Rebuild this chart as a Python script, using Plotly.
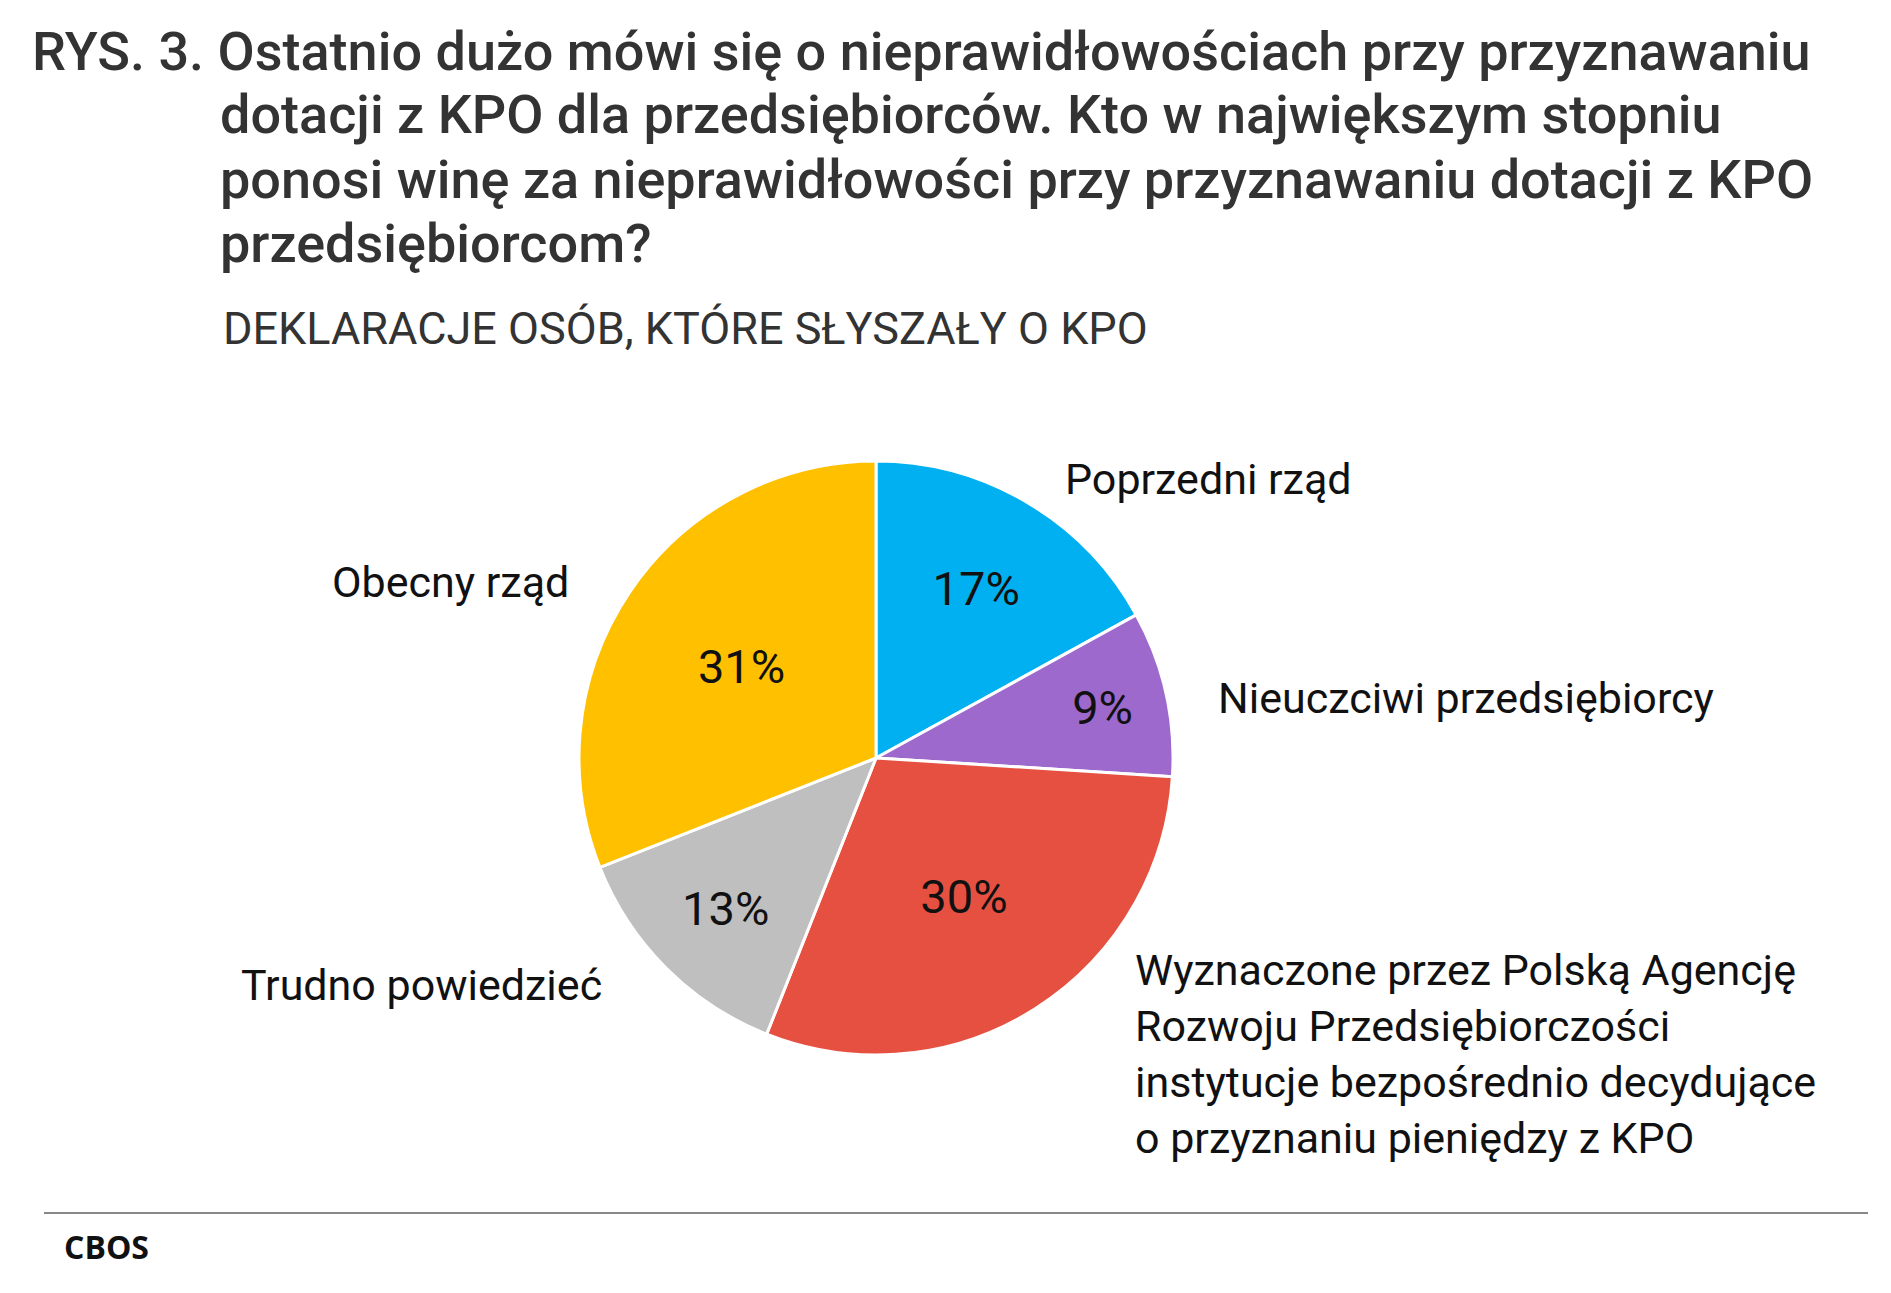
import plotly.graph_objects as go

labels = ["Poprzedni rząd", "Nieuczciwi przedsiębiorcy",
          "Wyznaczone przez Polską Agencję Rozwoju Przedsiębiorczości instytucje bezpośrednio decydujące o przyznaniu pieniędzy z KPO",
          "Trudno powiedzieć", "Obecny rząd"]
values = [17, 9, 30, 13, 31]
colors = ["#00B0F0", "#9E69CD", "#E65041", "#BFBFBF", "#FFC000"]

W, H = 1891, 1293
def px(x): return x / W
def py(y): return 1 - y / H

fig = go.Figure(go.Pie(
    labels=labels, values=values, sort=False, direction="clockwise", rotation=0,
    marker=dict(colors=colors, line=dict(color="white", width=3)),
    texttemplate="%{value}%", textinfo="text", textposition="inside",
    insidetextorientation="horizontal",
    textfont=dict(family="Roboto", size=47, color="#111"),
    domain=dict(x=[px(571), px(1165)], y=[py(1047), py(453)]),
    showlegend=False, hoverinfo="label+value"))

ann = []
title_lines = [
    (22, 44, "RYS. 3. Ostatnio dużo mówi się o nieprawidłowościach przy przyznawaniu"),
    (210, 107, "dotacji z KPO dla przedsiębiorców. Kto w największym stopniu"),
    (210, 171, "ponosi winę za nieprawidłowości przy przyznawaniu dotacji z KPO"),
    (210, 235, "przedsiębiorcom?"),
]
for x, y, t in title_lines:
    ann.append(dict(x=px(x), y=py(y), text=t, xanchor="left", yanchor="middle",
                    font=dict(family="Roboto", size=54, color="#333", weight=500)))
ann.append(dict(x=px(213), y=py(321), text="DEKLARACJE OSÓB, KTÓRE SŁYSZAŁY O KPO",
                xanchor="left", yanchor="middle", font=dict(family="Roboto", size=45, color="#333")))
lab = dict(family="Roboto", size=43, color="#111")
ann += [
    dict(x=px(1055), y=py(471), text="Poprzedni rząd", xanchor="left", yanchor="middle", font=lab),
    dict(x=px(563), y=py(574), text="Obecny rząd", xanchor="right", yanchor="middle", font=lab),
    dict(x=px(1208), y=py(690), text="Nieuczciwi przedsiębiorcy", xanchor="left", yanchor="middle", font=lab),
    dict(x=px(596), y=py(977), text="Trudno powiedzieć", xanchor="right", yanchor="middle", font=lab),
    dict(x=px(1125), y=py(935), text="Wyznaczone przez Polską Agencję<br>Rozwoju Przedsiębiorczości<br>instytucje bezpośrednio decydujące<br>o przyznaniu pieniędzy z KPO",
         xanchor="left", yanchor="top", align="left", font=lab),
    dict(x=px(54), y=py(1238), text="<b>CBOS</b>", xanchor="left", yanchor="middle",
         font=dict(family="Open Sans", size=32, color="#111")),
]
for a in ann:
    a.update(xref="paper", yref="paper", showarrow=False)

fig.update_layout(width=W, height=H, margin=dict(l=0, r=0, t=0, b=0),
                  paper_bgcolor="white", annotations=ann,
                  shapes=[dict(type="line", xref="paper", yref="paper", x0=px(36), x1=px(1860),
                               y0=py(1205), y1=py(1205), line=dict(color="#888", width=2))])
fig.write_html("out.html")
